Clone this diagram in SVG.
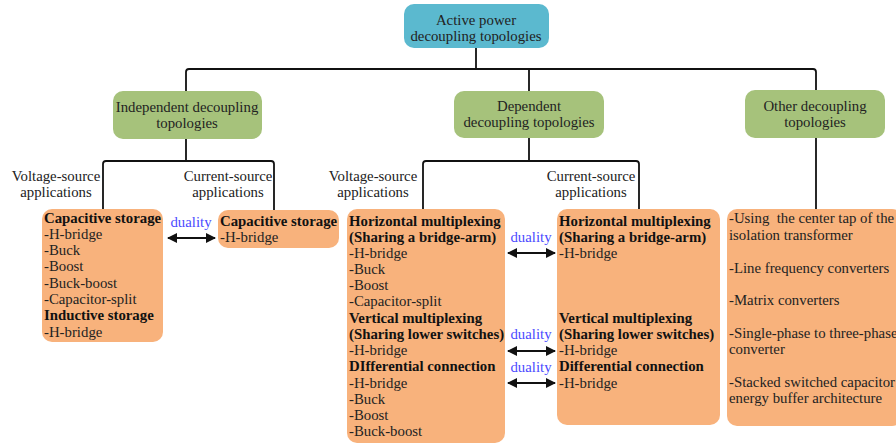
<svg xmlns="http://www.w3.org/2000/svg" width="896" height="447" viewBox="0 0 896 447">
<style>
text{font-family:"Liberation Serif","Times New Roman","DejaVu Serif",serif;font-size:14.8px;fill:#222}
.b{font-weight:bold;fill:#111}
.c{text-anchor:middle}
.d{fill:#4a4aff;text-anchor:middle}
.top{fill:#5bb9cf}
.grn{fill:#a6c27b}
.org{fill:#f8b27c}
.ln{fill:none;stroke:#111;stroke-width:1.8;stroke-linejoin:round}
.ar{stroke:#111;stroke-width:2;marker-start:url(#ah);marker-end:url(#ah)}
</style>
<defs>
<marker id="ah" viewBox="0 0 10 10" refX="9" refY="5" markerWidth="5" markerHeight="5" orient="auto-start-reverse" markerUnits="strokeWidth">
<path d="M0,0 L10,5 L0,10 Z" fill="#111"/>
</marker>
</defs>
<rect width="896" height="447" fill="#fff"/>
<g id="connectors">
<path class="ln" d="M476,48 V69"/>
<path class="ln" d="M186,91 V72 Q186,69 189,69 H813 Q816,69 816,72 V90"/>
<path class="ln" d="M529,69 V91"/>
<path class="ln" d="M186,139 V161"/>
<path class="ln" d="M103,210 V164 Q103,161 106,161 H271 Q274,161 274,164 V210"/>
<path class="ln" d="M529,138 V161"/>
<path class="ln" d="M423,209 V164 Q423,161 426,161 H636 Q639,161 639,164 V209"/>
<path class="ln" d="M816,138 V209"/>
<line class="ar" x1="168" y1="238" x2="215" y2="238"/>
<line class="ar" x1="508" y1="253" x2="555" y2="253"/>
<line class="ar" x1="508" y1="351" x2="555" y2="351"/>
<line class="ar" x1="508" y1="383" x2="555" y2="383"/>
<text class="d" x="191" y="227">duality</text>
<text class="d" x="531" y="242">duality</text>
<text class="d" x="531" y="339">duality</text>
<text class="d" x="531" y="372">duality</text>
<text class="c" x="56" y="181">Voltage-source</text>
<text class="c" x="56" y="197">applications</text>
<text class="c" x="228" y="181">Current-source</text>
<text class="c" x="228" y="197">applications</text>
<text class="c" x="373" y="181">Voltage-source</text>
<text class="c" x="373" y="197">applications</text>
<text class="c" x="591" y="181">Current-source</text>
<text class="c" x="591" y="197">applications</text>
</g>
<g id="root">
<rect class="top" x="404" y="4" width="145" height="44" rx="10"/>
<text class="c" x="476" y="25">Active power</text>
<text class="c" x="476" y="41">decoupling topologies</text>
</g>
<g id="independent">
<rect class="grn" x="113" y="91" width="149" height="48" rx="10"/>
<text class="c" x="187" y="112">Independent decoupling</text>
<text class="c" x="187" y="128">topologies</text>
</g>
<g id="dependent">
<rect class="grn" x="454" y="91" width="150" height="47" rx="10"/>
<text class="c" x="529" y="111">Dependent</text>
<text class="c" x="529" y="127">decoupling topologies</text>
</g>
<g id="other">
<rect class="grn" x="745" y="90" width="140" height="48" rx="10"/>
<text class="c" x="815" y="111">Other decoupling</text>
<text class="c" x="815" y="127">topologies</text>
</g>
<g id="indep-vs">
<rect class="org" x="42" y="209" width="121" height="133" rx="10"/>
<text class="b" x="44" y="223">Capacitive storage</text>
<text x="44" y="239">-H-bridge</text>
<text x="44" y="255">-Buck</text>
<text x="44" y="271">-Boost</text>
<text x="44" y="288">-Buck-boost</text>
<text x="44" y="304">-Capacitor-split</text>
<text class="b" x="44" y="320">Inductive storage</text>
<text x="44" y="337">-H-bridge</text>
</g>
<g id="indep-cs">
<rect class="org" x="218" y="210" width="121" height="38" rx="10"/>
<text class="b" x="220" y="226">Capacitive storage</text>
<text x="220" y="242">-H-bridge</text>
</g>
<g id="dep-vs">
<rect class="org" x="347" y="209" width="158" height="234" rx="10"/>
<text class="b" x="349" y="226">Horizontal multiplexing</text>
<text class="b" x="349" y="242">(Sharing a bridge-arm)</text>
<text x="349" y="258">-H-bridge</text>
<text x="349" y="274">-Buck</text>
<text x="349" y="290">-Boost</text>
<text x="349" y="306">-Capacitor-split</text>
<text class="b" x="349" y="323">Vertical multiplexing</text>
<text class="b" x="349" y="339">(Sharing lower switches)</text>
<text x="349" y="355">-H-bridge</text>
<text class="b" x="349" y="371">DIfferential connection</text>
<text x="349" y="388">-H-bridge</text>
<text x="349" y="404">-Buck</text>
<text x="349" y="420">-Boost</text>
<text x="349" y="436">-Buck-boost</text>
</g>
<g id="dep-cs">
<rect class="org" x="557" y="209" width="163" height="216" rx="10"/>
<text class="b" x="559" y="226">Horizontal multiplexing</text>
<text class="b" x="559" y="242">(Sharing a bridge-arm)</text>
<text x="559" y="258">-H-bridge</text>
<text class="b" x="559" y="323">Vertical multiplexing</text>
<text class="b" x="559" y="339">(Sharing lower switches)</text>
<text x="559" y="355">-H-bridge</text>
<text class="b" x="559" y="371">Differential connection</text>
<text x="559" y="388">-H-bridge</text>
</g>
<g id="other-list">
<rect class="org" x="727" y="209" width="175" height="217" rx="10"/>
<text x="729" y="223" xml:space="preserve">-Using  the center tap of the</text>
<text x="729" y="240">isolation transformer</text>
<text x="729" y="273">-Line frequency converters</text>
<text x="729" y="305">-Matrix converters</text>
<text x="729" y="338">-Single-phase to three-phase</text>
<text x="729" y="354">converter</text>
<text x="729" y="387">-Stacked switched capacitor</text>
<text x="729" y="403">energy buffer architecture</text>
</g>
</svg>
